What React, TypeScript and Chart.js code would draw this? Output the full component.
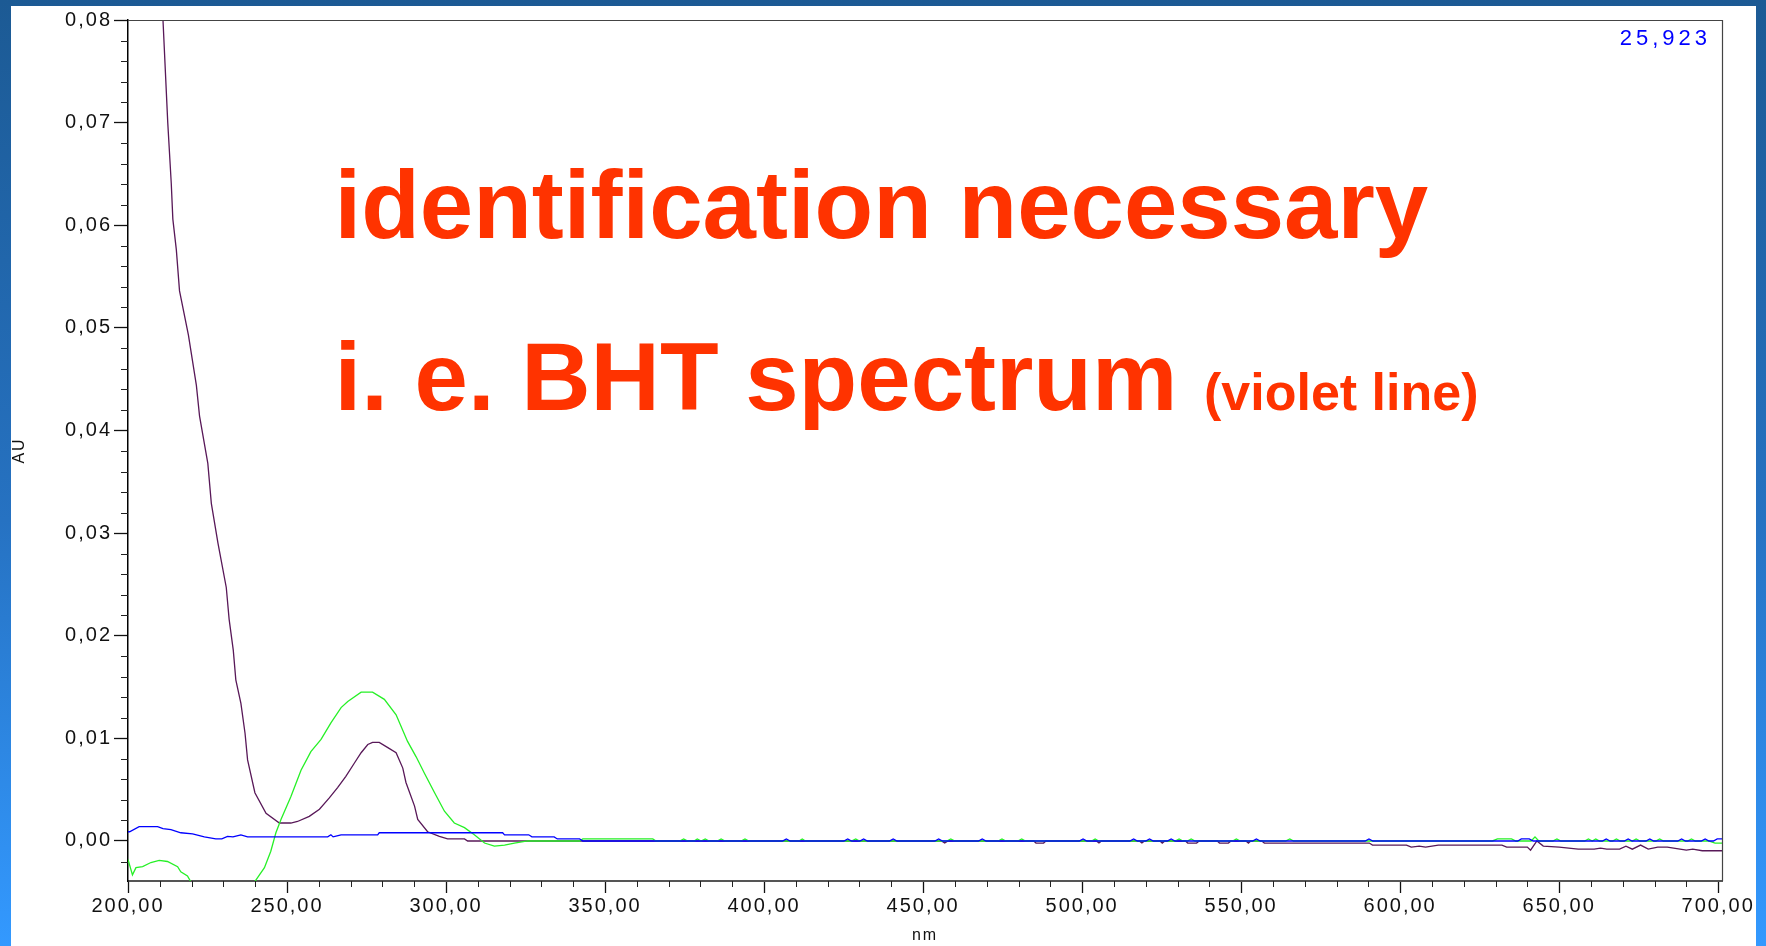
import { useEffect, useRef } from 'react';
import { Chart, registerables } from 'chart.js';

Chart.register(...registerables);

// ---- axes ----
const X_MIN = 200;
const X_MAX = 701.2;
const Y_MIN = -0.0039;
const Y_MAX = 0.08;
const X_MAJOR = 50;
const X_MINOR = 10;
const Y_MAJOR = 0.01;
const Y_MINOR = 0.002;
const xTickValues = [200, 250, 300, 350, 400, 450, 500, 550, 600, 650, 700];
const yTickValues = [0, 0.01, 0.02, 0.03, 0.04, 0.05, 0.06, 0.07, 0.08];
const xTitle = 'nm';
const yTitle = 'AU';

// ---- violet series (BHT spectrum) ----
const violetNm = [
  209.5, 211, 212.5, 213.6, 214.1, 215.2, 216.2, 219.0, 221.5, 222.5, 225.1, 226.2, 228.3, 230.9, 231.8,
  233.1, 233.9, 235.5, 236.8, 237.6, 239.9, 243.4, 247.6, 251.2, 253.3, 257.0, 260.2, 263.3, 265.9, 268.5,
  271.2, 273.3, 275.4, 276.9, 279.0, 281.7, 284.3, 286.4, 287.4, 290.1, 291.1, 294.2, 297.9, 300.5, 305.8,
  306.8, 455.8, 456.8, 457.8, 484.8, 485.5, 487.9, 488.6, 504.5, 505.3, 506.1, 518, 518.8, 519.6, 524.5,
  525.2, 526, 532.5, 533.2, 536, 536.8, 542.5, 543.2, 546, 546.8, 551.5, 552.3, 553, 556.5, 557.3, 590.3,
  591.3, 602, 603.5, 606, 608, 610, 612, 632, 633.5, 640, 641, 643, 645, 650, 656, 661, 663, 665, 669, 671,
  673, 675.6, 678, 681, 684, 688, 690, 692, 695, 701.2,
];
const violetAU = [
  0.09, 0.08, 0.07, 0.0641, 0.0606, 0.0576, 0.0536, 0.0493, 0.0444, 0.0414, 0.0368, 0.0329, 0.029, 0.0247, 0.0216,
  0.0186, 0.0157, 0.0134, 0.0105, 0.0079, 0.0047, 0.0027, 0.00175, 0.00175, 0.0019, 0.0024, 0.0031, 0.0042, 0.0052, 0.0063,
  0.0076, 0.0086, 0.0094, 0.0096, 0.0096, 0.0091, 0.0086, 0.0071, 0.0057, 0.0034, 0.0021, 0.0009, 0.00045, 0.0002, 0.0002,
  0, 0, -0.0002, 0, 0, -0.0002, -0.0002, 0, 0, -0.0002, 0, 0, -0.0002, 0, 0,
  -0.0002, 0, 0, -0.0002, -0.0002, 0, 0, -0.0002, -0.0002, 0, 0, -0.0002, 0, 0, -0.0002, -0.0002,
  -0.0004, -0.0004, -0.0006, -0.0005, -0.0006, -0.0005, -0.0004, -0.0004, -0.0006, -0.0006, -0.0009, 0, -0.0005, -0.0006, -0.0008, -0.0008, -0.0007, -0.0008, -0.0008, -0.0005,
  -0.0008, -0.0004, -0.0008, -0.0006, -0.0006, -0.0008, -0.0009, -0.0008, -0.00095, -0.00095,
];

// ---- green series ----
const greenNm = [
  200, 201.4, 202.5, 204.6, 207.2, 209.8, 212.4, 215.6, 216.6, 218.7, 219.8, 224, 230, 236, 240.0,
  242.9, 244.9, 246.5, 248.1, 251.2, 254.4, 257.5, 260.7, 263.8, 267.0, 269.1, 273.3, 276.9, 280.6, 284.3,
  287.9, 290.6, 293.2, 296.4, 299.5, 302.6, 305.8, 308.9, 312.1, 315.2, 318.4, 321.5, 325.7, 342, 343,
  365, 366, 373.5, 374.7, 376, 378, 379, 380.2, 381.5, 382.7, 385.3, 386.5, 387.7, 392.8, 394,
  395.2, 411, 412, 413, 427.5, 428.8, 430, 457.5, 458.7, 460, 473.6, 474.8, 476, 479.8, 481,
  482.2, 503, 504.1, 505.2, 529.3, 530.5, 531.7, 533.1, 534.3, 535.5, 547.3, 548.5, 549.7, 564, 565.3,
  566.5, 629, 630.6, 635, 636.4, 641.2, 642.4, 643.6, 648, 649.3, 650.5, 658, 659.2, 660.4, 661.5,
  662.7, 666.8, 668, 669.2, 673, 674.2, 675.4, 680.4, 681.6, 682.8, 690.4, 691.6, 692.8, 697, 699, 701.2,
];
const greenAU = [
  -0.0018, -0.0033, -0.0026, -0.0025, -0.0021, -0.0019, -0.002, -0.0025, -0.003, -0.0034, -0.004, -0.007, -0.009, -0.0072, -0.0039,
  -0.0026, -0.001, 0.0008, 0.0021, 0.0043, 0.0069, 0.0087, 0.0099, 0.0115, 0.013, 0.0136, 0.0145, 0.0145, 0.0138, 0.0123,
  0.0097, 0.0082, 0.0066, 0.0047, 0.0029, 0.00175, 0.0013, 0.0006, -0.0002, -0.0005, -0.0004, -0.0002, 0, 0, 0.0002,
  0.0002, 0, 0, 0.0002, 0, 0, 0.0002, 0, 0.0002, 0, 0, 0.0002, 0, 0, 0.0002,
  0, 0, 0.0002, 0, 0, 0.0002, 0, 0, 0.0002, 0, 0, 0.0002, 0, 0, 0.0002,
  0, 0, 0.0002, 0, 0, 0.0002, 0, 0, 0.0002, 0, 0, 0.0002, 0, 0, 0.0002,
  0, 0, 0.0002, 0.0002, 0, 0, 0.0004, 0, 0, 0.0002, 0, 0, 0.0002, 0, 0.0002,
  0, 0, 0.0002, 0, 0, 0.0002, 0, 0, 0.0002, 0, 0, 0.0002, 0, 0, -0.0002, -0.0002,
];

// ---- blue series ----
const blueNm = [
  200, 200.5, 203.5, 209.3, 211, 213.5, 216.6, 220.3, 224, 227.6, 229.5, 231.3, 233, 235.5, 237.6,
  262.8, 263.8, 264.5, 267, 278.5, 279, 317.8, 318.4, 326, 327, 334, 335, 342, 343,
  405.8, 407, 408.2, 425.1, 426.3, 427.5, 430.1, 431.3, 432.5, 439.4, 440.6, 441.8, 453.7, 454.9, 456.1,
  467.4, 468.6, 469.8, 499.1, 500.3, 501.5, 515, 516.2, 517.4, 520, 521.2, 522.4, 526.8, 528, 529.2,
  553.6, 554.8, 556, 589, 590.2, 591.4, 637, 638.1, 640.6, 641.8, 663.6, 664.8, 666, 670.5, 671.7,
  672.9, 677.3, 678.5, 679.7, 687.3, 688.5, 689.7, 694.7, 695.9, 697.1, 698.5, 699.7, 701.2,
];
const blueAU = [
  0.0009, 0.0009, 0.0014, 0.0014, 0.0012, 0.0011, 0.0008, 0.0007, 0.0004, 0.0002, 0.0002, 0.00045, 0.0004, 0.0006, 0.0004,
  0.0004, 0.0006, 0.0004, 0.0006, 0.0006, 0.0008, 0.0008, 0.0006, 0.0006, 0.0004, 0.0004, 0.0002, 0.0002, 0,
  0, 0.0002, 0, 0, 0.0002, 0, 0, 0.0002, 0, 0, 0.0002, 0, 0, 0.0002, 0,
  0, 0.0002, 0, 0, 0.0002, 0, 0, 0.0002, 0, 0, 0.0002, 0, 0, 0.0002, 0,
  0, 0.0002, 0, 0, 0.0002, 0, 0, 0.0002, 0.0002, 0, 0, 0.0002, 0, 0, 0.0002,
  0, 0, 0.0002, 0, 0, 0.0002, 0, 0, 0.0002, 0, 0, 0.0002, 0.0002,
];

// ---- annotation texts ----
const cornerValue = '25,923';
const headline1 = 'identification necessary';
const headline2 = 'i. e. BHT spectrum';
const headline2Note = '(violet line)';

const fmt = (v: number) => Number(v).toFixed(2).replace('.', ',');
const pts = (xs: number[], ys: number[]) => xs.map((x, i) => ({ x, y: ys[i] }));
const FONT = '"Liberation Sans", Arial, sans-serif';

const decoPlugin = {
  id: 'deco',
  beforeUpdate(chart: any) {
    chart.ctx.letterSpacing = '2px';
  },
  beforeLayout(chart: any) {
    chart.ctx.letterSpacing = '2px';
  },
  beforeDraw(chart: any) {
    chart.ctx.letterSpacing = '2px';
  },
  afterDraw(chart: any) {
    const { ctx, chartArea } = chart;
    const xs = chart.scales.x;
    const ys = chart.scales.y;
    ctx.save();
    // frame top & right
    ctx.strokeStyle = '#444';
    ctx.lineWidth = 1.2;
    ctx.beginPath();
    ctx.moveTo(chartArea.left, chartArea.top + 0.5);
    ctx.lineTo(chartArea.right + 0.5, chartArea.top + 0.5);
    ctx.lineTo(chartArea.right + 0.5, chartArea.bottom);
    ctx.stroke();
    // minor ticks
    ctx.strokeStyle = '#222';
    ctx.lineWidth = 1;
    ctx.beginPath();
    for (let v = X_MIN; v <= 700 + 1e-6; v += X_MINOR) {
      if (Math.abs(v / X_MAJOR - Math.round(v / X_MAJOR)) < 1e-6) continue;
      const px = Math.round(xs.getPixelForValue(v)) + 0.5;
      ctx.moveTo(px, chartArea.bottom);
      ctx.lineTo(px, chartArea.bottom + 6);
    }
    for (let k = Math.ceil(Y_MIN / Y_MINOR); k * Y_MINOR <= Y_MAX + 1e-9; k++) {
      if (k % 5 === 0) continue;
      const py = Math.round(ys.getPixelForValue(k * Y_MINOR)) + 0.5;
      ctx.moveTo(chartArea.left - 7, py);
      ctx.lineTo(chartArea.left, py);
    }
    ctx.stroke();

    // corner value
    ctx.letterSpacing = '4px';
    ctx.font = `22px ${FONT}`;
    ctx.fillStyle = '#0000FF';
    ctx.textAlign = 'right';
    ctx.textBaseline = 'alphabetic';
    ctx.fillText(cornerValue, 1711, 45);

    // headline
    ctx.letterSpacing = '0px';
    ctx.fillStyle = '#FF3300';
    ctx.textAlign = 'left';
    ctx.font = `bold 96px ${FONT}`;
    ctx.fillText(headline1, 334.5, 238);
    ctx.fillText(headline2, 334.5, 410);
    const w = ctx.measureText(headline2 + ' ').width;
    ctx.font = `bold 52px ${FONT}`;
    ctx.fillText(headline2Note, 334.5 + w, 410);
    ctx.restore();
  },
};

export default function App() {
  const ref = useRef<HTMLCanvasElement>(null);
  useEffect(() => {
    const canvas = ref.current!;
    const chart = new Chart(canvas, {
      type: 'line',
      data: {
        datasets: [
          { label: 'blue', data: pts(blueNm, blueAU), borderColor: '#0000FF', borderWidth: 1.3, pointRadius: 0, tension: 0 },
          { label: 'green', data: pts(greenNm, greenAU), borderColor: '#26F026', borderWidth: 1.3, pointRadius: 0, tension: 0 },
          { label: 'violet', data: pts(violetNm, violetAU), borderColor: '#581858', borderWidth: 1.3, pointRadius: 0, tension: 0 },
        ],
      },
      options: {
        responsive: false,
        maintainAspectRatio: false,
        animation: false,
        devicePixelRatio: 1,
        layout: { padding: { left: 0, top: 20, right: 44, bottom: 0 } },
        plugins: { legend: { display: false }, tooltip: { enabled: false } },
        events: [],
        scales: {
          x: {
            type: 'linear',
            position: 'bottom',
            min: X_MIN,
            max: X_MAX,
            afterBuildTicks: (s: any) => { s.ticks = xTickValues.map((value) => ({ value })); },
            ticks: {
              autoSkip: false,
              maxRotation: 0,
              padding: 1,
              color: '#111',
              font: { family: FONT, size: 20 },
              callback: (v: any) => fmt(v),
            },
            grid: { drawOnChartArea: false, drawTicks: true, tickLength: 12, tickColor: '#111', tickWidth: 1.3 },
            border: { display: true, color: '#555', width: 2 },
            title: { display: true, text: xTitle, color: '#111', font: { family: FONT, size: 16 }, padding: { top: 0, bottom: 1 } },
            afterFit: (s: any) => { s.height = 65; },
          },
          y: {
            type: 'linear',
            min: Y_MIN,
            max: Y_MAX,
            afterBuildTicks: (s: any) => { s.ticks = yTickValues.map((value) => ({ value })); },
            ticks: {
              autoSkip: false,
              padding: 2,
              color: '#111',
              font: { family: FONT, size: 20 },
              callback: (v: any) => fmt(v),
            },
            grid: { drawOnChartArea: false, drawTicks: true, tickLength: 14, tickColor: '#111', tickWidth: 1.3 },
            border: { display: true, color: '#000', width: 1.5 },
            title: { display: true, text: yTitle, color: '#111', font: { family: FONT, size: 16 }, padding: { top: 10, bottom: 0 } },
            afterFit: (s: any) => { s.width = 128; },
          },
        },
      },
      plugins: [decoPlugin],
    } as any);
    return () => chart.destroy();
  }, []);

  return (
    <div
      style={{
        position: 'fixed',
        left: 0,
        top: 0,
        width: 1766,
        height: 946,
        overflow: 'hidden',
        background: 'linear-gradient(to bottom, #1c5a94 0%, #2672c2 55%, #3399ff 100%)',
      }}
    >
      <div style={{ position: 'absolute', left: 11, top: 6, width: 1745, height: 940, background: '#ffffff' }} />
      <canvas ref={ref} width={1766} height={946} style={{ position: 'absolute', left: 0, top: 0, width: 1766, height: 946 }} />
    </div>
  );
}
